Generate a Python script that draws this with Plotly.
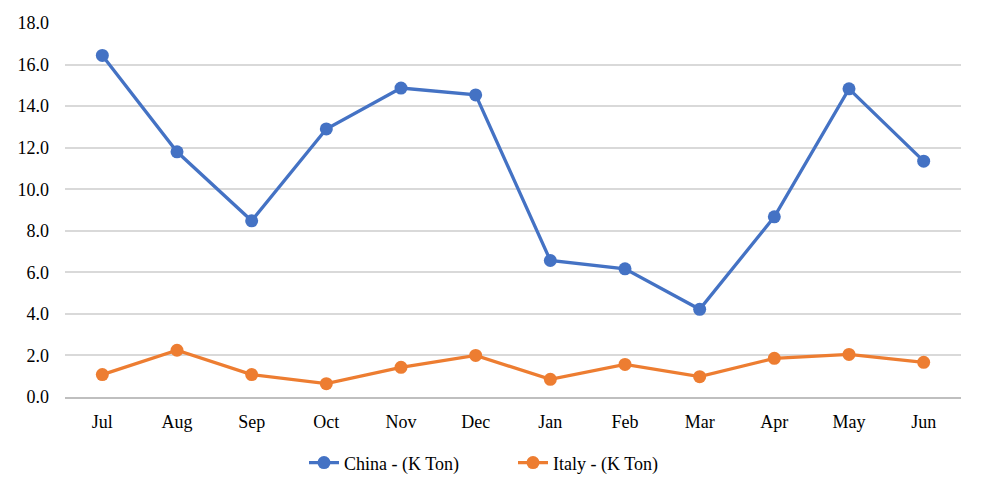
import plotly.graph_objects as go

months = ["Jul", "Aug", "Sep", "Oct", "Nov", "Dec", "Jan", "Feb", "Mar", "Apr", "May", "Jun"]
china = [16.44, 11.80, 8.48, 12.90, 14.87, 14.54, 6.57, 6.17, 4.22, 8.67, 14.83, 11.35]
italy = [1.08, 2.25, 1.08, 0.64, 1.43, 2.00, 0.85, 1.57, 0.98, 1.86, 2.05, 1.67]
y_ticks = [0, 2, 4, 6, 8, 10, 12, 14, 16, 18]

serif = "Liberation Serif, Times New Roman, serif"

fig = go.Figure()
fig.add_trace(go.Scatter(x=months, y=china, name="China - (K Ton)", mode="lines+markers",
                         line=dict(color="#4472C4", width=3.3), marker=dict(size=13, color="#4472C4")))
fig.add_trace(go.Scatter(x=months, y=italy, name="Italy - (K Ton)", mode="lines+markers",
                         line=dict(color="#ED7D31", width=3.3), marker=dict(size=13, color="#ED7D31")))

# the page body has an 8px margin, so the figure is sized to fit inside it
fig.update_layout(
    width=976, height=484,
    margin=dict(l=57, r=23, t=15, b=94),
    plot_bgcolor="white", paper_bgcolor="white",
    font=dict(family=serif, size=18, color="#000000"),
    showlegend=True,
    legend=dict(orientation="h", x=0.5, xanchor="center", y=-0.173, yanchor="middle",
                font=dict(family=serif, size=18), entrywidth=164, entrywidthmode="pixels",
                tracegroupgap=0),
    xaxis=dict(range=[-0.5, len(months) - 0.5], showgrid=False, showline=True,
               linecolor="#BFBFBF", linewidth=2,
               ticks="", ticklabelstandoff=7, automargin=False,
               tickfont=dict(family=serif, size=18)),
    yaxis=dict(range=[0, 18], tickvals=y_ticks, tickformat=".1f", showgrid=True,
               gridcolor="#D9D9D9", gridwidth=1.5, zeroline=False, showline=False,
               ticks="", ticklabelstandoff=15, automargin=False,
               tickfont=dict(family=serif, size=18)),
)

fig.write_html("out.html")
